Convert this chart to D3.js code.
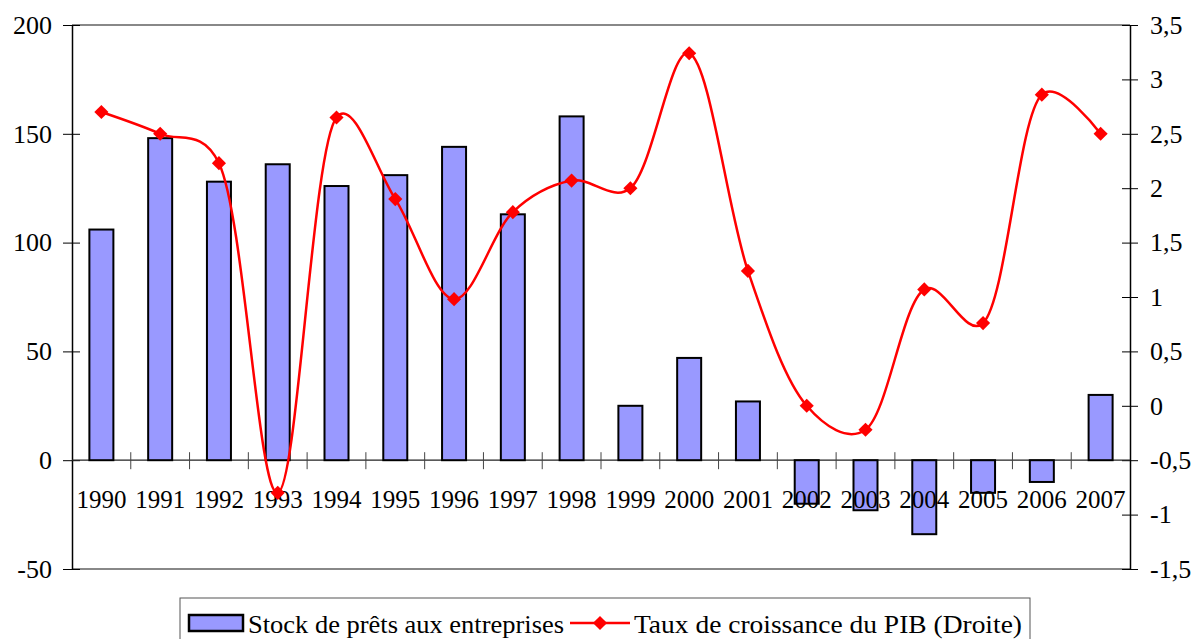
<!DOCTYPE html>
<html>
<head>
<meta charset="utf-8">
<script src="https://cdn.jsdelivr.net/npm/d3@7/dist/d3.min.js"></script>
<style>
  body { margin: 0; background: #fff; }
  svg { display: block; font-family: "Liberation Serif", "Times New Roman", serif; }
</style>
</head>
<body>
<svg id="chart" width="1192" height="639"></svg>
<script>
// Data
const years = ["1990", "1991", "1992", "1993", "1994", "1995", "1996", "1997", "1998",
  "1999", "2000", "2001", "2002", "2003", "2004", "2005", "2006", "2007"];
const loans = [106, 148, 128, 136, 126, 131, 144, 113, 158, 25, 47, 27, -20, -23, -34, -15, -10, 30];
const gdpGrowth = [2.7, 2.5, 2.23, -0.8, 2.65, 1.9, 0.98, 1.78, 2.07, 2.0, 3.24, 1.24, 0, -0.22, 1.07, 0.76, 2.86, 2.5];
const leftTicks = [-50, 0, 50, 100, 150, 200];
const rightTicks = [-1.5, -1, -0.5, 0, 0.5, 1, 1.5, 2, 2.5, 3, 3.5];
const legendLabels = ["Stock de prêts aux entreprises", "Taux de croissance du PIB (Droite)"];

const svg = d3.select("#chart");
const plotLeft = 72, plotRight = 1130, plotTop = 25, plotBottom = 569;

const x = d3.scaleBand().domain(years).range([plotLeft, plotRight]);
const yL = d3.scaleLinear().domain([-50, 200]).range([plotBottom, plotTop]);
const yR = d3.scaleLinear().domain([-1.5, 3.5]).range([plotBottom, plotTop]);
const fmt = v => String(v).replace(".", ",");

// Top and bottom borders
svg.append("line").attr("x1", plotLeft).attr("x2", plotRight).attr("y1", plotTop).attr("y2", plotTop)
  .attr("stroke", "#888").attr("stroke-width", 2);
svg.append("line").attr("x1", plotLeft).attr("x2", plotRight).attr("y1", plotBottom).attr("y2", plotBottom)
  .attr("stroke", "#888").attr("stroke-width", 2);

// Left axis
const gL = svg.append("g").attr("transform", `translate(${plotLeft},0)`)
  .call(d3.axisLeft(yL).tickValues(leftTicks).tickSize(0).tickPadding(20).tickFormat(fmt));
gL.select(".domain").attr("stroke", "#000").attr("stroke-width", 1.5);
gL.selectAll(".tick line").attr("x1", -9).attr("x2", 8).attr("stroke", "#000");
gL.selectAll(".tick text").attr("font-size", 26).attr("fill", "#000");
gL.attr("font-family", null);

// Right axis
const gR = svg.append("g").attr("transform", `translate(${plotRight},0)`)
  .call(d3.axisRight(yR).tickValues(rightTicks).tickSize(0).tickPadding(20).tickFormat(fmt));
gR.select(".domain").attr("stroke", "#000").attr("stroke-width", 1.5);
gR.selectAll(".tick line").attr("x1", -8).attr("x2", 8).attr("stroke", "#000");
gR.selectAll(".tick text").attr("font-size", 26).attr("fill", "#000");
gR.attr("font-family", null);

// Category axis at zero
const y0 = yL(0);
svg.append("line").attr("x1", plotLeft).attr("x2", plotRight).attr("y1", y0).attr("y2", y0)
  .attr("stroke", "#222").attr("stroke-width", 1.2);
svg.append("g").selectAll("line")
  .data(years.slice(1))
  .join("line")
  .attr("x1", d => x(d)).attr("x2", d => x(d))
  .attr("y1", y0 - 8).attr("y2", y0 + 9)
  .attr("stroke", "#444");

// Bars
const bw = 24;
svg.append("g").selectAll("rect")
  .data(loans)
  .join("rect")
  .attr("x", (d, i) => x(years[i]) + x.bandwidth() / 2 - bw / 2)
  .attr("y", d => yL(Math.max(0, d)))
  .attr("width", bw)
  .attr("height", d => Math.abs(yL(d) - y0))
  .attr("fill", "#9999FF")
  .attr("stroke", "#000")
  .attr("stroke-width", 2);

// Year labels
svg.append("g").selectAll("text")
  .data(years)
  .join("text")
  .attr("x", d => x(d) + x.bandwidth() / 2)
  .attr("y", 508)
  .attr("text-anchor", "middle")
  .attr("font-size", 25)
  .text(d => d);

// GDP line
const pts = gdpGrowth.map((v, i) => [x(years[i]) + x.bandwidth() / 2, yR(v)]);
svg.append("path")
  .attr("d", d3.line().curve(d3.curveCatmullRom.alpha(0.25))(pts))
  .attr("fill", "none")
  .attr("stroke", "#FF0000")
  .attr("stroke-width", 2.5);
const diamond = d3.symbol().type(d3.symbolSquare).size(100);
svg.append("g").selectAll("path")
  .data(pts)
  .join("path")
  .attr("d", diamond)
  .attr("transform", d => `translate(${d[0]},${d[1]}) rotate(45)`)
  .attr("fill", "#FF0000");

// Legend
const lg = svg.append("g");
lg.append("rect").attr("x", 180).attr("y", 598).attr("width", 850).attr("height", 44)
  .attr("fill", "#fff").attr("stroke", "#555").attr("stroke-width", 1);
lg.append("rect").attr("x", 189).attr("y", 615).attr("width", 54).attr("height", 16)
  .attr("fill", "#9999FF").attr("stroke", "#000").attr("stroke-width", 2.5);
lg.append("text").attr("x", 248).attr("y", 633).attr("font-size", 25)
  .attr("textLength", 316).attr("lengthAdjust", "spacingAndGlyphs").text(legendLabels[0]);
lg.append("line").attr("x1", 570).attr("x2", 630).attr("y1", 623).attr("y2", 623)
  .attr("stroke", "#FF0000").attr("stroke-width", 2.5);
lg.append("path").attr("d", diamond).attr("transform", "translate(600,623) rotate(45)").attr("fill", "#FF0000");
lg.append("text").attr("x", 634).attr("y", 633).attr("font-size", 25)
  .attr("textLength", 388).attr("lengthAdjust", "spacingAndGlyphs").text(legendLabels[1]);
</script>
</body>
</html>
